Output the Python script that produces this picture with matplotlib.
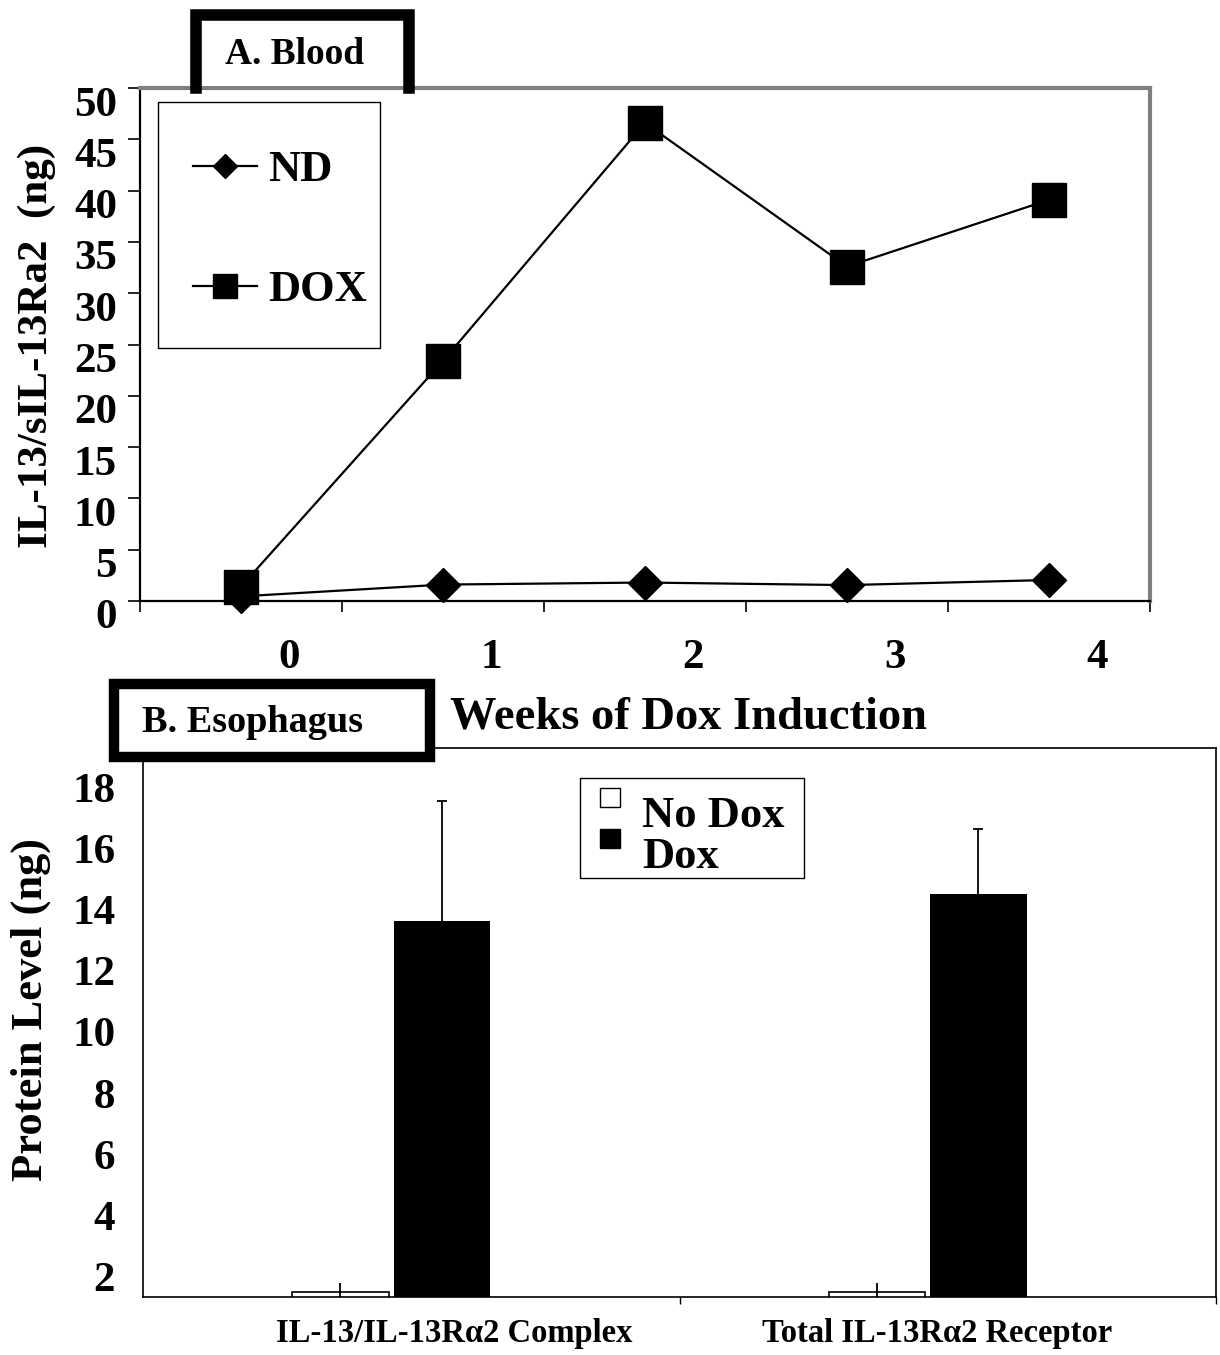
import numpy as np
import matplotlib.pyplot as plt
import matplotlib.transforms as mtransforms
from matplotlib.lines import Line2D
from matplotlib.patches import Rectangle, Patch
from matplotlib.legend_handler import HandlerPatch

plt.rcParams['font.family'] = ['Liberation Serif', 'DejaVu Serif']
plt.rcParams['font.weight'] = 'bold'
plt.rcParams['axes.labelweight'] = 'bold'

# ---- panel A: blood, weekly ----
weeks = ['0', '1', '2', '3', '4']
nd_vals = [0.45, 1.6, 1.8, 1.55, 2.05]
dox_vals = [1.4, 23.4, 46.6, 32.6, 39.1]

# ---- panel B: esophagus ----
groups = ['IL-13/IL-13Rα2 Complex', 'Total IL-13Rα2 Receptor']
nodox_vals = [1.5, 1.5]
nodox_err = [0.3, 0.3]
dox_bar_vals = [13.64, 14.52]
dox_bar_err = [3.9, 2.1]

W, H = 1220, 1355
fig = plt.figure(figsize=(W / 100, H / 100), dpi=100)


def fx(px):
    return px / W


def fy(py):
    return 1 - py / H


def frame_box(x0, y0, x1, y1, lw=1.0):
    # plain legend frame, placed in figure pixels
    fig.patches.append(Rectangle((fx(x0), fy(y1)), fx(x1) - fx(x0), fy(y0) - fy(y1),
                                 transform=fig.transFigure, facecolor='none',
                                 edgecolor='black', lw=lw, zorder=4))


########## Panel A ##########
axA = fig.add_axes([fx(140), fy(601), (1150 - 140) / W, (601 - 88) / H])
x = np.arange(len(weeks))
dox_line, = axA.plot(x, dox_vals, color='black', lw=1.6, marker='s', ms=24,
                     label='DOX', clip_on=False, zorder=3)
nd_line, = axA.plot(x, nd_vals, color='black', lw=1.6, marker='D', ms=17,
                    label='ND', clip_on=False, zorder=4)

axA.set_xlim(-0.5, 4.5)
axA.set_ylim(0, 50)
axA.set_yticks(np.arange(0, 51, 5))
axA.tick_params(axis='y', length=8.6, width=1.2, pad=8, labelsize=31)
# week labels sit to the right of the points, like the original
axA.set_xticks(x + 0.24)
axA.set_xticklabels(weeks)
axA.set_xticks(np.arange(-0.5, 5, 1), minor=True)
axA.tick_params(axis='x', which='major', length=0, pad=27, labelsize=31)
axA.tick_params(axis='x', which='minor', length=8, width=1.2)

# y labels are drawn a bit below their ticks
off = mtransforms.ScaledTranslation(0, -13 / 100, fig.dpi_scale_trans)
for lab in axA.get_yticklabels():
    lab.set_transform(lab.get_transform() + off)

for s in ['top', 'right']:
    axA.spines[s].set_color('#808080')
    axA.spines[s].set_linewidth(3)
for s in ['left', 'bottom']:
    axA.spines[s].set_color('black')
    axA.spines[s].set_linewidth(1.6)

axA.set_ylabel('IL-13/sIL-13Ra2  (ng)', fontsize=31)
axA.yaxis.label.set_va('center')
axA.yaxis.set_label_coords(-0.102, 0.497)
axA.set_xlabel('Weeks of Dox Induction', fontsize=33.5)
axA.xaxis.label.set_va('baseline')
axA.xaxis.set_label_coords(0.5426, -0.2476)

legA = axA.legend(handles=[nd_line, dox_line], loc='upper left',
                  bbox_to_anchor=(fx(193), fy(150)), bbox_transform=fig.transFigure,
                  borderaxespad=0, fontsize=32, frameon=False,
                  handlelength=1.45, handletextpad=0.25, labelspacing=1.8,
                  borderpad=0, markerscale=0.72)
frame_box(158, 102, 380, 348)

# "A. Blood" tab
fig.patches.append(Rectangle((fx(196), fy(86)), fx(409) - fx(196), fy(15) - fy(86),
                             transform=fig.transFigure, facecolor='white',
                             edgecolor='none', zorder=5))
fig.add_artist(Line2D([fx(196), fx(196), fx(409), fx(409)],
                      [fy(88), fy(15), fy(15), fy(88)], lw=8.3, color='black',
                      transform=fig.transFigure, solid_joinstyle='miter', zorder=6))
fig.text(fx(295), fy(55), 'A. Blood', ha='center', va='center', fontsize=27, zorder=7)

########## Panel B ##########
axB = fig.add_axes([fx(143), fy(1297), (1216 - 143) / W, (1297 - 748) / H])
xb = np.arange(len(groups))
bw = 0.18
b1 = axB.bar(xb - 0.132, nodox_vals, bw, color='white', edgecolor='black',
             lw=1.2, label='No Dox')
b2 = axB.bar(xb + 0.057, dox_bar_vals, bw, color='black', label='Dox')
axB.errorbar(xb - 0.132, nodox_vals, yerr=nodox_err, fmt='none', ecolor='black',
             elinewidth=1.3, capsize=0)
axB.errorbar(xb + 0.057, dox_bar_vals, yerr=dox_bar_err, fmt='none', ecolor='black',
             elinewidth=1.3, capsize=3.5, capthick=1.3)

axB.set_xlim(-0.5, 1.5)
axB.set_ylim(1.34, 19.28)
axB.set_yticks(np.arange(2, 19, 2))
axB.tick_params(axis='y', length=0, pad=20, labelsize=31)
axB.set_xticks(xb + np.array([0.08, -0.02]))
axB.set_xticklabels(groups)
axB.set_xticks([0.5, 1.5], minor=True)
axB.tick_params(axis='x', which='major', length=0, pad=15, labelsize=23.5)
axB.tick_params(axis='x', which='minor', length=5, width=1)
for s in axB.spines.values():
    s.set_color('black')
    s.set_linewidth(1.2)

axB.set_ylabel('Protein Level (ng)', fontsize=32)
axB.yaxis.label.set_va('center')
axB.yaxis.set_label_coords(-0.105, 0.523)


def raised_box(legend, orig_handle, xdescent, ydescent, width, height, fontsize):
    # legend squares sit high, next to the top of the text
    return Rectangle((-xdescent, -ydescent + 0.3 * fontsize), width, height)


legB = axB.legend(handles=[Patch(facecolor='white', edgecolor='black', lw=1),
                           Patch(facecolor='black', edgecolor='black')],
                  labels=['No Dox', 'Dox'], loc='upper left',
                  bbox_to_anchor=(fx(600), fy(796)), bbox_transform=fig.transFigure,
                  borderaxespad=0, fontsize=32, frameon=False,
                  handlelength=0.45, handleheight=0.28, handletextpad=0.5,
                  labelspacing=0.02, borderpad=0,
                  handler_map={Patch: HandlerPatch(patch_func=raised_box)})
frame_box(580, 778, 804, 878)

# "B. Esophagus" tab
fig.patches.append(Rectangle((fx(114), fy(757)), fx(430) - fx(114), fy(684) - fy(757),
                             transform=fig.transFigure, facecolor='white',
                             edgecolor='black', lw=7.5, joinstyle='miter', zorder=5))
fig.text(fx(252), fy(722), 'B. Esophagus', ha='center', va='center', fontsize=27.5, zorder=7)

fig.savefig('out.png', dpi=100)
